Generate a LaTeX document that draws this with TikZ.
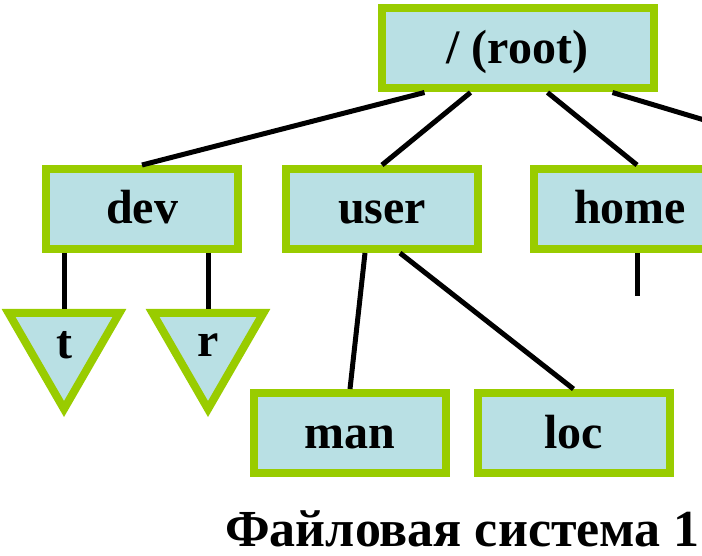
\documentclass[tikz,border=0pt]{standalone}
\usepackage{fontspec}
\setmainfont{Liberation Serif}
\usetikzlibrary{shapes.geometric, positioning}
\definecolor{cgreen}{HTML}{99CC00}
\definecolor{cpale}{HTML}{B9E0E4}

\begin{document}
\begin{tikzpicture}[x=1pt, y=-1pt]
    \useasboundingbox (0,0) rectangle (702,556);
    \clip (0,0) rectangle (702,556);
    \begin{scope}[
        dirbox/.style={rectangle, draw=cgreen, line width=8pt, fill=cpale, minimum width=192pt, minimum height=80pt, inner sep=0pt, text height=30pt, text depth=0pt, font=\fontsize{48}{52}\selectfont\bfseries},
        filetri/.style={regular polygon, regular polygon sides=3, shape border rotate=180, draw=cgreen, line width=8pt, fill=cpale, minimum size=128pt, inner sep=0pt, font=\fontsize{48}{52}\selectfont\bfseries},
        link/.style={line width=5pt, draw=black},
        titletext/.style={font=\fontsize{52}{56}\selectfont\bfseries, inner sep=0pt}
    ]
        % ================= top level =================
        \node[dirbox, minimum width=272pt] (root) at (517.5, 48.5) {/ (root)};

        % ================= directories =================
        \node[dirbox] (dev) at (142, 209) {dev};
        \node[dirbox] (user) at (382, 209) {user};
        \node[dirbox] (home) at (630, 209) {home};
        \coordinate (offpage) at (740, 130.7);
        \coordinate (homeend) at (637, 296);

        % ================= devices and subdirectories =================
        \node[filetri] (tty) at (64, 345) {t};
        \node[filetri] (ram) at (208, 345) {r};
        \node[dirbox] (man) at (350, 433) {man};
        \node[dirbox] (loc) at (573.5, 433) {loc};

        % ================= links =================
        \draw[link] ([xshift=-93pt]root.south) -- (dev.north);
        \draw[link] ([xshift=-47pt]root.south) -- (user.north);
        \draw[link] ([xshift=30pt]root.south) -- ([xshift=7pt]home.north);
        \draw[link] ([xshift=95pt]root.south) -- (offpage);
        \draw[link] (dev.south -| tty.north) -- (tty.north);
        \draw[link] (dev.south -| ram.north) -- (ram.north);
        \draw[link] ([xshift=-17pt]user.south) -- (man.north);
        \draw[link] ([xshift=18pt]user.south) -- (loc.north);
        \draw[link] (homeend |- home.south) -- (homeend);

        \node[titletext, anchor=base east] (fstitle) at (700, 546) {Файловая система 1};
    \end{scope}
\end{tikzpicture}
\end{document}
